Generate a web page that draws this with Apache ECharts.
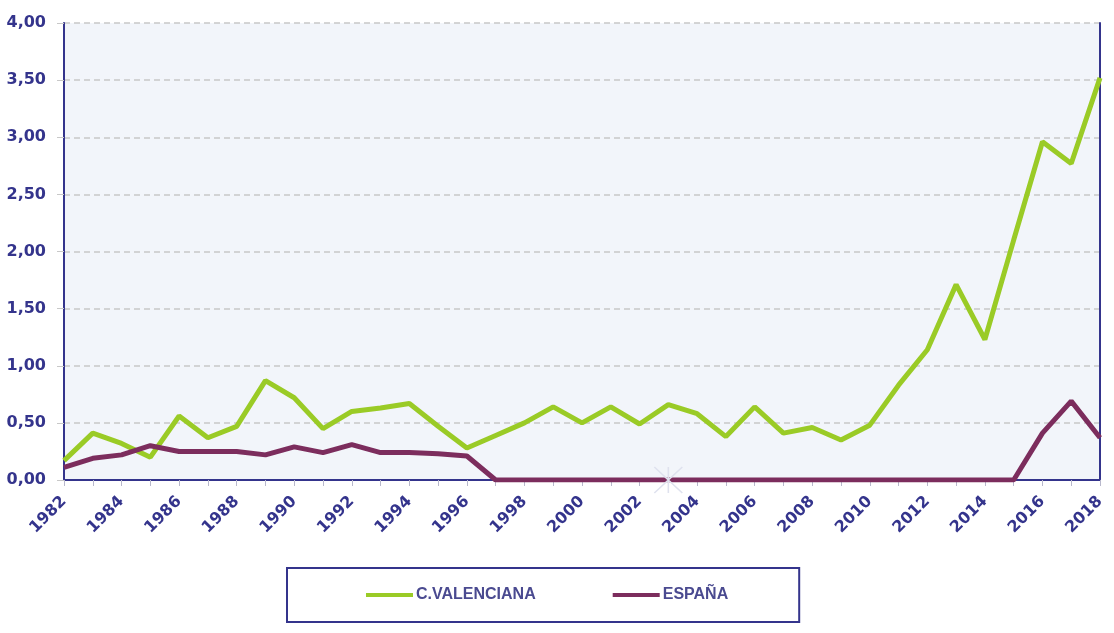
<!DOCTYPE html>
<html>
<head>
<meta charset="utf-8">
<script src="https://cdn.jsdelivr.net/npm/echarts@6/dist/echarts.min.js"></script>
<style>html,body{margin:0;padding:0;background:#fff;}#c{width:1114px;height:633px;}</style>
</head>
<body>
<div id="c"></div>
<script>
const years = ['1982','1983','1984','1985','1986','1987','1988','1989','1990','1991','1992','1993','1994','1995','1996','1997','1998','1999','2000','2001','2002','2003','2004','2005','2006','2007','2008','2009','2010','2011','2012','2013','2014','2015','2016','2017','2018'];
const valenciana = [0.17,0.41,0.32,0.20,0.56,0.37,0.47,0.87,0.72,0.45,0.60,0.63,0.67,0.47,0.28,0.39,0.50,0.64,0.50,0.64,0.49,0.66,0.58,0.38,0.64,0.41,0.46,0.35,0.48,0.83,1.14,1.71,1.23,2.10,2.96,2.77,3.52];
const espana = [0.11,0.19,0.22,0.30,0.25,0.25,0.25,0.22,0.29,0.24,0.31,0.24,0.24,0.23,0.21,0,0,0,0,0,0,0,0,0,0,0,0,0,0,0,0,0,0,0,0.41,0.69,0.37];
const yTicks = {min:0, max:4, interval:0.5};
const markerYear = '2003';

const navy = '#34348c';
const chart = echarts.init(document.getElementById('c'));
chart.setOption({
  animation:false,
  grid:{left:64, right:14, top:23, bottom:153, show:true, backgroundColor:'#f2f5fa', borderWidth:0},
  legend:{
    left:287, top:568, padding:[19,71,19,79], itemGap:77, itemWidth:47, itemHeight:4, icon:'rect',
    borderColor:navy, borderWidth:2, backgroundColor:'#fff',
    textStyle:{color:'#4a4a90', fontWeight:'bold', fontSize:16, fontFamily:'Liberation Sans', padding:[0,0,0,-2]},
    data:['C.VALENCIANA','ESPAÑA']
  },
  xAxis:[{
    type:'category', data:years, boundaryGap:false,
    axisLine:{lineStyle:{color:'#7272b4', width:2}},
    axisTick:{show:true, interval:0, length:6, lineStyle:{color:'#b8b8cc'}},
    axisLabel:{interval:1, rotate:45, color:navy, fontWeight:'bold', fontSize:16, fontFamily:'DejaVu Sans', margin:19},
    splitLine:{show:false}
  },{
    type:'category', data:years, boundaryGap:false, position:'top',
    axisLine:{lineStyle:{color:navy, width:2}}, axisTick:{show:false}, axisLabel:{show:false}
  }],
  yAxis:[{
    type:'value', min:yTicks.min, max:yTicks.max, interval:yTicks.interval,
    axisLine:{show:true, lineStyle:{color:navy, width:2}},
    axisTick:{show:true, length:7, lineStyle:{color:'#c8c8c8'}},
    axisLabel:{color:navy, fontWeight:'bold', fontSize:16, fontFamily:'DejaVu Sans', margin:18,
      formatter:v=>v.toFixed(2).replace('.',',')},
    splitLine:{show:true, lineStyle:{color:'#c8c8c8', type:[6,4], width:1.5}}
  },{
    type:'value', min:yTicks.min, max:yTicks.max, interval:yTicks.interval, position:'right',
    axisLine:{show:true, lineStyle:{color:navy, width:2}}, axisTick:{show:false}, axisLabel:{show:false}, splitLine:{show:false}
  }],
  series:[
    {name:'C.VALENCIANA', type:'line', data:valenciana, symbol:'none', z:3,
      lineStyle:{color:'#9acb26', width:5}, itemStyle:{color:'#9acb26'}},
    {name:'ESPAÑA', type:'line', data:espana, symbol:'none', z:4,
      lineStyle:{color:'#7c2d5d', width:5}, itemStyle:{color:'#7c2d5d'},
      markPoint:{
        symbol:'path://M0,0L10,10M10,0L0,10M5,0L5,10', symbolSize:[28,26], silent:true,
        itemStyle:{color:'none', borderColor:'#dfe2ee', borderWidth:1.5},
        label:{show:false},
        data:[{coord:[markerYear,0]}]
      }}
  ]
});
</script>
</body>
</html>
